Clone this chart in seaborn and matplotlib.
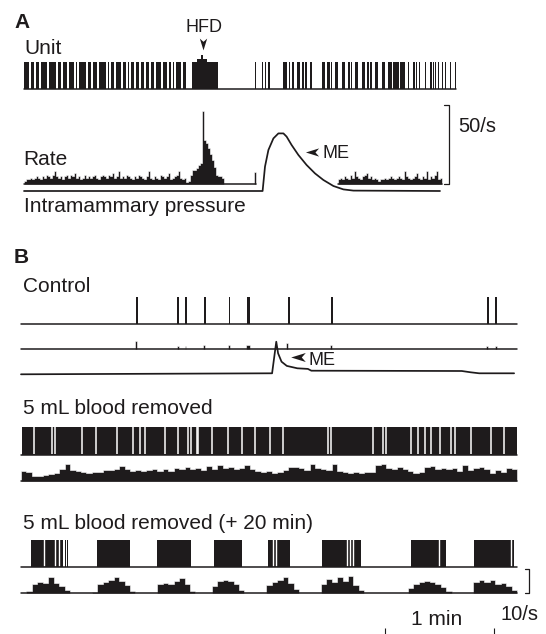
import numpy as np
import matplotlib
matplotlib.use("Agg")
import matplotlib.pyplot as plt
from matplotlib.path import Path
import seaborn as sns

sns.set_theme(style="white")
plt.rcParams["font.family"] = ["Liberation Sans", "DejaVu Sans"]

INK = "#1e1b1c"
W, H = 546, 634

# ---------------- panel A : time in s ----------------
a_duration = 216
a_unit_on = [0, 3.3, 5.9, 8.4, 12.5, 16.9, 19.4, 22.5, 25.9, 27.4, 32, 34.4, 37.5, 41.9, 43.4,
             46, 49.4, 51.9, 53.4, 56, 58.4, 61, 63.4, 66, 69.5, 72.5, 74.4, 75.9, 79.5, 84,
             115.5, 118.8, 120.5, 122.2, 129.5, 132.3, 134, 136.5, 138.8, 140.5, 143, 149, 151.5,
             153.3, 155.5, 159, 162, 163.5, 165.5, 169, 171.5, 173, 175.5, 179, 182, 184.5, 188,
             192, 194.5, 196, 197.3, 200.5, 203, 204.5, 205.5, 207, 209, 210.3, 213, 215.5]
a_unit_off = [2.6, 5.2, 7.6, 11.5, 16.2, 18.6, 21.5, 25.2, 26.6, 31, 33.6, 36.5, 41.2, 42.6, 45,
              48.6, 51.2, 52.6, 55, 57.6, 60, 62.6, 65, 68.5, 71.5, 73.6, 75.2, 78.5, 81, 97,
              115.5, 118.8, 120.5, 122.2, 131.5, 132.3, 134.8, 138, 140, 141.5, 144, 150.5, 152.8,
              154, 157, 160.5, 163, 164, 167, 170.5, 172.5, 174, 177, 180.5, 184, 187.5, 190.5,
              192, 195.5, 196.5, 197.3, 200.5, 203.8, 204.5, 205.5, 207, 209, 210.3, 213, 215.5]
a_hfd_on = [86.5, 88.5]
a_hfd_off = [91.5, 89.5]
a_hfd_amp = [1.12, 1.3]

# firing rate (spikes/s), 1 s bins
a_rate1 = [2, 3, 3, 4, 3, 4, 5, 4, 3, 5,
           4, 6, 5, 4, 6, 8, 5, 4, 5, 3,
           5, 6, 4, 6, 5, 7, 4, 5, 3, 4,
           6, 4, 5, 4, 5, 6, 4, 3, 5, 6,
           5, 4, 6, 5, 7, 4, 5, 8, 4, 5,
           4, 6, 5, 4, 3, 5, 4, 6, 5, 4,
           3, 5, 8, 4, 3, 5, 4, 3, 6, 5,
           4, 5, 7, 3, 4, 5, 6, 8, 4, 3,
           4, 1, 2, 6, 9, 9, 10, 12, 13, 46,
           28, 26, 23, 19, 15, 11, 6, 5, 5, 4,
           0, 0, 0, 0, 0, 0, 0, 0, 0, 0,
           0, 0, 0, 0, 0, 7.5]
a_rate2_start = 157
a_rate2 = [3, 4, 3, 5, 4, 3, 6, 4, 8, 5,
           4, 3, 5, 6, 7, 4, 5, 3, 4, 3,
           2, 3, 3, 4, 3, 4, 5, 4, 3, 4,
           5, 4, 3, 8, 5, 4, 3, 4, 5, 7,
           4, 3, 5, 4, 8, 3, 5, 4, 6, 8,
           3, 4]
a_rate_scale = 50

# intramammary pressure (arbitrary units)
a_press_t = [0, 119.3, 120.5, 122.2, 124.7, 127.2, 129.7, 131.3, 133.8, 137.2, 141.3, 145.5,
             149.7, 154.7, 159.7, 164.7, 208]
a_press_v = [0, 0, 12.2, 20.5, 26.3, 28.8, 28.8, 27.2, 23, 18, 13, 8.8, 5.5, 2.5, 0.8, 0.2, 0]

# ---------------- panel B : time in s ----------------
b_duration = 273
b_ctrl_on = [63.5, 86.1, 90.2, 100.7, 114.4, 124.3, 146.9, 170.8, 256.6, 261.0]
b_ctrl_off = [63.5, 86.1, 90.2, 100.7, 114.4, 126.0, 146.9, 170.8, 256.6, 261.0]
b_ctrl_rate_t = [63, 86, 90, 100, 114, 124, 125, 146, 170, 256, 261]
b_ctrl_rate_v = [3.0, 1.0, 1.0, 1.3, 1.3, 1.7, 1.7, 2.2, 1.7, 1.2, 1.2]
b_ctrl_press_t = [0, 138.2, 140.5, 141.5, 143.4, 146.3, 152.1, 157.9, 159.8, 242.6, 247.5, 252.2, 271.4]
b_ctrl_press_v = [0, 0.5, 16.3, 10.5, 6.3, 4.2, 3.0, 2.7, 1.8, 1.65, 1.0, 0.5, 0.5]

# 5 mL removed: continuous firing, short pauses
b_dense_pauses = [7.3, 16.9, 18.7, 33.4, 41.3, 52.6, 61.8, 65.5, 68.2, 79.2, 86.4, 91.9, 93.5,
                  96.6, 97.5, 104.9, 113.9, 121.4, 128.7, 137.0, 144.1, 168.7, 170.5, 193.6,
                  199.1, 201.1, 214.9, 218.4, 222.2, 225.9, 230.5, 236.9, 238.7, 247.9, 258.9, 265.7]
b_dense_rate = [4.3, 4.0, 2.2, 2.0, 2.4, 3.0, 3.2, 5.2, 7.2, 4.5,
                4.2, 4.0, 3.6, 3.9, 3.7, 4.6, 4.8, 5.0, 6.4, 5.0,
                4.2, 4.8, 4.3, 4.6, 5.3, 4.4, 5.0, 4.2, 5.6, 4.9,
                5.8, 5.1, 5.4, 4.8, 6.2, 5.3, 6.8, 5.7, 6.0, 5.2,
                5.6, 6.6, 5.0, 4.2, 3.8, 4.4, 3.6, 4.0, 4.6, 6.1,
                6.0, 5.4, 4.8, 7.4, 5.6, 5.2, 4.8, 7.2, 4.1, 3.8,
                3.6, 3.9, 3.5, 4.0, 3.7, 6.8, 7.2, 5.6, 5.3, 5.8,
                5.0, 4.4, 3.6, 3.9, 5.9, 6.3, 5.2, 5.6, 4.9, 5.4,
                4.4, 6.9, 4.8, 5.7, 6.0, 5.2, 3.6, 4.6, 3.9, 5.4,
                5.0]

# 5 mL removed (+20 min): phasic bursts
b_burst_on = [5.5, 24.2, 25.3, 41.8, 75.1, 106.0, 135.9, 165.7, 214.7, 249.3]
b_burst_off = [23.1, 24.2, 25.3, 60.0, 93.6, 121.4, 148.3, 186.9, 233.9, 271.6]
b_burst_pauses = [12.7, 18.7, 20.9, 138.7, 140.6, 179.2, 181.1, 183.0, 230.1, 269.7]
b_burst_rate = [0, 0.6, 3.8, 4.6, 3.9, 6.5, 4.2, 3.0, 1.2, 0,
                0, 0, 0, 0.4, 3.5, 4.5, 5.2, 6.8, 4.8, 3.2,
                0.5, 0, 0, 0, 0, 3.6, 4.2, 3.8, 5.0, 6.4,
                3.5, 0.6, 0, 0, 0, 2.8, 5.0, 5.4, 4.8, 3.6,
                1.2, 0, 0, 0, 0, 3.2, 4.6, 5.4, 6.6, 4.2,
                1.6, 0, 0, 0, 0, 3.8, 5.6, 4.6, 6.8, 5.0,
                7.0, 3.4, 1.0, 0, 0, 0, 0, 0, 0, 0,
                0, 1.8, 3.8, 4.6, 5.0, 4.4, 3.6, 2.2, 0.8, 0,
                0, 0, 0, 4.4, 5.2, 4.6, 5.4, 3.8, 4.2, 3.0,
                1.2]
b_rate_bin = 3
b_rate_scale = 10
b_minute_start = 200.3

# ---------------- drawing ----------------
fig = plt.figure(figsize=(W / 100, H / 100), dpi=100)
canvas = fig.add_axes([0, 0, 1, 1])
canvas.set_xlim(0, W)
canvas.set_ylim(H, 0)
canvas.axis("off")

LW = 1.1


def strip(x0, x1, t_end, y0, ppu, v_max):
    # axes whose value 0 sits on pixel row y0, ppu pixels per unit
    top = y0 - v_max * ppu
    ax = fig.add_axes([x0 / W, 1 - y0 / H, (x1 - x0) / W, (y0 - top) / H])
    ax.set_xlim(0, t_end)
    ax.set_ylim(0, v_max)
    ax.axis("off")
    return ax


def unclip(ax):
    for art in ax.get_children():
        art.set_clip_on(False)


def spikes(ax, on, off, amp=1.0, min_w=0.6):
    on = np.asarray(on, float)
    off = np.asarray(off, float)
    ax.bar(on, amp, width=np.maximum(off - on, min_w), bottom=0, align="edge",
           color=INK, linewidth=0)


def rate(ax, values, start, binw):
    edges = start + binw * np.arange(len(values) + 1)
    ax.stairs(values, edges, fill=True, color=INK, lw=0.4)
    ax.plot([edges[0], edges[-1]], [0, 0], color=INK, lw=LW)


def pressure(ax, t, v):
    sns.lineplot(x=t, y=v, ax=ax, color=INK, linewidth=1.25, estimator=None, sort=False)
    ax.axis("off")


# A: unit
ax = strip(24, 456, a_duration, 89, 26.5, 1.4)
spikes(ax, a_unit_on, a_unit_off, min_w=0.6)
spikes(ax, a_hfd_on, a_hfd_off, amp=np.array(a_hfd_amp))
ax.plot([0, a_duration], [0, 0], color=INK, lw=LW)
unclip(ax)

# A: rate + 50/s bar
ax = strip(24, 456, a_duration, 184, 1.58, 55)
rate(ax, a_rate1, 0, 1)
rate(ax, a_rate2, a_rate2_start, 1)
ax.plot([210.2, 212.5, 212.5, 210.2], [a_rate_scale, a_rate_scale, 0, 0], color=INK, lw=0.9)
unclip(ax)

# A: pressure
ax = strip(24, 456, a_duration, 191, 2.0, 32)
pressure(ax, a_press_t, a_press_v)
unclip(ax)

# B: control
ax = strip(21, 517, b_duration, 323.5, 26.5, 1.2)
spikes(ax, b_ctrl_on, b_ctrl_off, min_w=0.9)
ax.plot([0, b_duration], [0, 0], color=INK, lw=LW)
unclip(ax)

ax = strip(21, 517, b_duration, 348.5, 2.35, 10)
ctrl_rate = np.zeros(b_duration)
ctrl_rate[np.array(b_ctrl_rate_t)] = b_ctrl_rate_v
rate(ax, ctrl_rate, 0, 1)
unclip(ax)

ax = strip(21, 517, b_duration, 374.3, 2.0, 20)
pressure(ax, b_ctrl_press_t, b_ctrl_press_v)
unclip(ax)

# B: 5 mL removed
ax = strip(21, 517, b_duration, 455, 28, 1.2)
ax.bar(0.8, 1, width=b_duration - 0.8, bottom=0, align="edge", color=INK, linewidth=0)
ax.vlines(b_dense_pauses, 0.05, 1.02, color="white", lw=1.1)
ax.plot([0, b_duration], [0, 0], color=INK, lw=LW)
unclip(ax)

ax = strip(21, 517, b_duration, 481, 2.35, 10)
rate(ax, b_dense_rate, 0, b_rate_bin)
unclip(ax)

# B: +20 min
ax = strip(21, 517, b_duration, 567, 27, 1.2)
spikes(ax, b_burst_on, b_burst_off, min_w=0.7)
ax.vlines(b_burst_pauses, 0.05, 1.02, color="white", lw=1.0)
ax.plot([0, b_duration], [0, 0], color=INK, lw=LW)
unclip(ax)

ax = strip(21, 517, b_duration, 592.5, 2.33, 12)
rate(ax, b_burst_rate, 0, b_rate_bin)
ax.plot([277.4, 279.6, 279.6, 277.4], [b_rate_scale, b_rate_scale, 0, 0], color=INK, lw=0.9)
unclip(ax)

# 1 min time bar
ax = strip(21, 517, b_duration, 634, 8, 1)
ax.vlines([b_minute_start, b_minute_start + 60], 0, 0.75, color=INK, lw=0.8)
unclip(ax)

# arrowheads
left_head = Path([(-1, 0), (1, 0.62), (0.45, 0), (1, -0.62), (-1, 0)],
                 [Path.MOVETO, Path.LINETO, Path.LINETO, Path.LINETO, Path.CLOSEPOLY])
down_head = Path([(0, -1), (0.62, 1), (0, 0.45), (-0.62, 1), (0, -1)],
                 [Path.MOVETO, Path.LINETO, Path.LINETO, Path.LINETO, Path.CLOSEPOLY])
canvas.plot(312, 152, marker=left_head, ms=9.5, color=INK, mew=0)
canvas.plot(298, 357, marker=left_head, ms=10.5, color=INK, mew=0)
canvas.plot(203, 44, marker=down_head, ms=8.5, color=INK, mew=0)

# labels
txt = dict(color=INK, va="baseline")
canvas.text(14, 28.5, "A", fontsize=15, fontweight="bold", **txt)
canvas.text(204, 31.5, "HFD", fontsize=13, ha="center", **txt)
canvas.text(24, 53.5, "Unit", fontsize=15, **txt)
canvas.text(23, 165, "Rate", fontsize=15, **txt)
canvas.text(24, 212, "Intramammary pressure", fontsize=15, **txt)
canvas.text(322, 158, "ME", fontsize=13, **txt)
canvas.text(458, 131.5, "50/s", fontsize=14.5, **txt)
canvas.text(14, 263, "B", fontsize=15, fontweight="bold", **txt)
canvas.text(23, 292, "Control", fontsize=15, **txt)
canvas.text(308, 365, "ME", fontsize=13, **txt)
canvas.text(23, 414, "5 mL blood removed", fontsize=15, **txt)
canvas.text(23, 529, "5 mL blood removed (+ 20 min)", fontsize=15, **txt)
canvas.text(437, 625, "1 min", fontsize=15, ha="center", **txt)
canvas.text(500, 620, "10/s", fontsize=14.5, **txt)

fig.savefig("out.png", dpi=100)
